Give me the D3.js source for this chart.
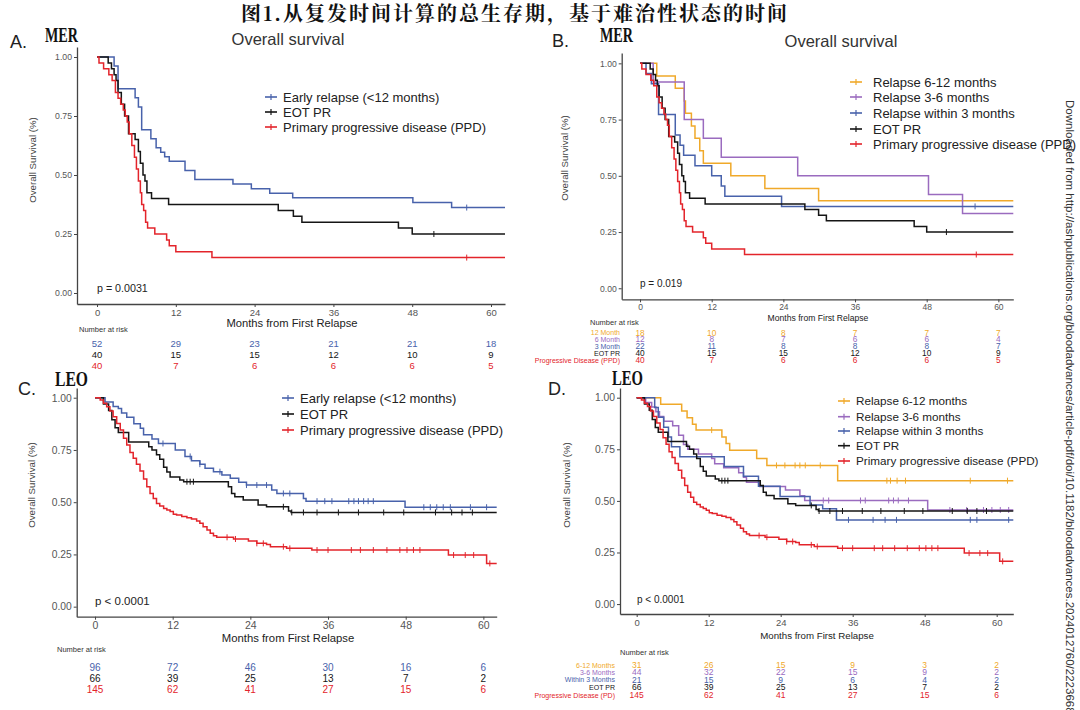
<!DOCTYPE html>
<html>
<head>
<meta charset="utf-8">
<script src="https://cdn.jsdelivr.net/npm/d3@7"></script>
<style>
  body { margin: 0; background: #fff; }
  svg { display: block; font-family: "Liberation Sans", Arial, sans-serif; }
</style>
</head>
<body>
<svg width="1080" height="710"></svg>
<script>
// ---- data ----
var monthTicks = [0, 12, 24, 36, 48, 60];
var survTicks = [0, 0.25, 0.5, 0.75, 1];

// MER cohort: [month, survival] steps, censor times
var merEarly = [[0,1],[2.6,0.962],[3.2,0.865],[5.8,0.827],[6.3,0.788],[6.8,0.692],[8.2,0.654],[9.0,0.615],[9.7,0.596],[10.3,0.577],[11.0,0.558],[13.4,0.519],[14.9,0.481],[20.7,0.462],[23.5,0.442],[26.3,0.423],[29.8,0.404],[48.1,0.383],[54.0,0.362]];
var merEarlyCens = [56.3];
var merEot = [[0,1],[1.7,0.975],[2.2,0.95],[2.6,0.925],[2.9,0.9],[3.2,0.85],[3.7,0.8],[4.2,0.75],[4.8,0.675],[5.8,0.65],[6.3,0.6],[6.6,0.55],[7.0,0.5],[7.3,0.475],[7.6,0.425],[8.3,0.4],[10.9,0.375],[27.6,0.35],[29.9,0.325],[31.2,0.3],[45.9,0.275],[48.0,0.25]];
var merEotCens = [51.3];
var merPpd = [[0,1],[0.3,0.975],[1.0,0.95],[1.8,0.925],[2.3,0.9],[2.8,0.85],[3.2,0.825],[3.6,0.8],[4.0,0.775],[4.3,0.75],[4.6,0.725],[4.9,0.675],[5.3,0.625],[5.7,0.575],[6.0,0.525],[6.3,0.475],[6.6,0.425],[6.8,0.375],[7.1,0.35],[7.4,0.3],[7.7,0.275],[8.8,0.25],[10.6,0.225],[11.0,0.2],[12.0,0.175],[17.5,0.15]];
var merPpdCens = [56.3];
var mer612 = [[0,1],[2.8,0.944],[5.9,0.889],[7.4,0.833],[7.6,0.778],[8.6,0.722],[9.2,0.667],[10.0,0.611],[10.6,0.556],[15.2,0.5],[20.9,0.444],[29.9,0.389]];
var mer36 = [[0,1],[2.2,0.917],[7.4,0.75],[10.6,0.667],[13.6,0.583],[26.4,0.5],[48.3,0.417],[54.0,0.333]];
var mer3 = [[0,1],[1.0,0.955],[1.9,0.909],[3.1,0.773],[5.9,0.682],[6.7,0.636],[7.3,0.591],[9.2,0.545],[12.0,0.5],[13.6,0.455],[14.2,0.409],[23.7,0.364]];
var mer3Cens = [56.1];

// LEO cohort
var leoEarly = [[0,1],[1.55,0.979],[2.8,0.958],[3.6,0.948],[4.1,0.927],[4.9,0.906],[6.0,0.875],[7.0,0.854],[7.5,0.823],[8.8,0.802],[9.8,0.781],[12.4,0.75],[13.9,0.719],[14.9,0.698],[16.2,0.682],[17.0,0.662],[18.3,0.646],[19.6,0.63],[20.9,0.614],[22.2,0.595],[23.4,0.582],[27.3,0.558],[28.1,0.542],[32.2,0.518],[32.6,0.505],[47.9,0.476]];
var leoEarlyCens = [10.5,14.7,16.2,19.3,23.4,25.0,26.5,29.1,30.1,34.3,35.5,36.6,39.2,40.0,40.7,41.5,42.2,43.0,50.8,51.8,52.8,53.8,54.9,58.0,60.5];
var leoEot = [[0,1],[1.3,0.97],[2.1,0.939],[2.6,0.894],[3.1,0.856],[3.6,0.833],[5.2,0.788],[8.3,0.765],[8.8,0.75],[9.5,0.727],[10.0,0.705],[10.6,0.667],[11.1,0.644],[11.6,0.621],[13.1,0.606],[13.7,0.598],[20.6,0.574],[21.1,0.542],[21.6,0.526],[22.9,0.51],[25.2,0.486],[26.5,0.478],[29.9,0.458],[30.3,0.451]];
var leoEotCens = [14.2,14.7,15.2,29.1,30.4,32.2,34.3,37.6,40.7,44.6,47.7,52.6,55.1,56.7,58.3];
var leoPpd = [[0,1],[0.8,0.989],[1.3,0.973],[1.8,0.957],[2.3,0.936],[2.8,0.909],[3.35,0.877],[3.9,0.846],[4.4,0.806],[4.9,0.774],[5.4,0.738],[5.9,0.71],[6.4,0.681],[6.95,0.649],[7.5,0.611],[8.0,0.574],[8.5,0.542],[9.0,0.518],[9.5,0.494],[10.0,0.482],[10.6,0.47],[11.1,0.463],[11.6,0.455],[12.1,0.442],[12.6,0.439],[13.4,0.431],[14.2,0.426],[14.9,0.42],[15.7,0.41],[16.2,0.399],[16.7,0.383],[17.3,0.367],[17.8,0.351],[18.3,0.34],[18.8,0.332],[21.4,0.324],[23.7,0.314],[25.0,0.303],[26.5,0.298],[27.1,0.287],[29.6,0.279],[33.5,0.271],[54.6,0.247],[60.5,0.207]];
var leoPpdCens = [20.4,21.7,25.0,26.0,29.1,30.1,34.3,36.0,39.6,41.0,43.0,45.1,47.1,48.2,49.2,50.2,55.4,57.2,58.5,61.0];
var leo612 = [[0,1],[4.0,0.968],[7.5,0.935],[8.4,0.903],[9.3,0.871],[9.9,0.843],[14.2,0.81],[14.9,0.778],[15.5,0.745],[20.0,0.705],[21.7,0.672],[33.5,0.598]];
var leo612Cens = [12.5,23.3,24.7,26.4,27.2,28.1,30.6,41.7,42.3,43.4,44.8,55.6,61.8];
var leo36 = [[0,1],[1.5,0.977],[2.5,0.955],[3.2,0.932],[3.8,0.909],[4.5,0.886],[6.0,0.864],[7.0,0.818],[7.8,0.773],[8.5,0.75],[10.3,0.727],[12.5,0.705],[13.0,0.68],[14.5,0.66],[17.0,0.636],[17.8,0.614],[18.3,0.59],[20.5,0.57],[24.8,0.553],[27.2,0.525],[28.0,0.502],[48.5,0.456]];
var leo36Cens = [31.1,32.0,37.3,38.1,42.0,42.8,43.6,45.3,52.2,55.0,57.8,59.2,60.6,62.0];
var leo3 = [[0,1],[3.0,0.952],[3.6,0.905],[4.5,0.857],[5.3,0.81],[5.8,0.762],[7.2,0.714],[14.6,0.667],[17.8,0.619],[20.3,0.571],[23.9,0.521],[28.9,0.48],[31.0,0.462],[33.3,0.408]];
var leo3Cens = [35.3,39.4,41.4,43.3,55.6,56.7,62.0];

// numbers at risk
var riskMerEarly = [52, 29, 23, 21, 21, 18];
var riskMerEot = [40, 15, 15, 12, 10, 9];
var riskMerPpd = [40, 7, 6, 6, 6, 5];
var riskMer612 = [18, 10, 8, 7, 7, 7];
var riskMer36 = [12, 8, 7, 6, 6, 4];
var riskMer3 = [22, 11, 8, 8, 8, 7];
var riskLeoEarly = [96, 72, 46, 30, 16, 6];
var riskLeoEot = [66, 39, 25, 13, 7, 2];
var riskLeoPpd = [145, 62, 41, 27, 15, 6];
var riskLeo612 = [31, 26, 15, 9, 3, 2];
var riskLeo36 = [44, 32, 22, 15, 9, 2];
var riskLeo3 = [21, 15, 9, 6, 4, 2];

var colBlue = "#4862ab", colBlack = "#151515", colRed = "#e3242b", colOrange = "#f0a92a", colPurple = "#9a6bbf";

var svg = d3.select("svg");

svg.append("text")
    .attr("x", 515).attr("y", 21)
    .attr("text-anchor", "middle")
    .attr("font-family", "'Noto Serif CJK SC', 'Noto Sans CJK SC', sans-serif")
    .attr("font-size", "20px")
    .attr("font-weight", "bold")
    .attr("letter-spacing", "2px")
    .attr("fill", "#111")
    .text("图1.从复发时间计算的总生存期，基于难治性状态的时间");

// watermark along right edge
svg.append("text")
    .attr("transform", "translate(1066,100) rotate(90)")
    .attr("font-size", "11.5px")
    .attr("fill", "#333")
    .text("Downloaded from http://ashpublications.org/bloodadvances/article-pdf/doi/10.1182/bloodadvances.2024012760/2223668/blooda");

function survAt(steps, t) {
  var s = 1;
  steps.forEach(function(p) { if (p[0] <= t) s = p[1]; });
  return s;
}

function drawPanel(p) {
  var x = d3.scaleLinear().domain([p.xmin, p.xmax]).range([p.left, p.right]);
  var y = d3.scaleLinear().domain([p.ymin, p.ymax]).range([p.bottom, p.top]);
  var g = svg.append("g");

  var xAxis = g.append("g")
      .attr("transform", "translate(0," + p.bottom + ")")
      .call(d3.axisBottom(x).tickValues(monthTicks).tickSize(3).tickSizeOuter(0).tickPadding(2));
  xAxis.selectAll("text").attr("font-size", p.tickFont).attr("fill", "#555").attr("font-family", "Liberation Sans, Arial, sans-serif");

  var yAxis = g.append("g")
      .attr("transform", "translate(" + p.left + ",0)")
      .call(d3.axisLeft(y).tickValues(survTicks).tickFormat(d3.format(".2f")).tickSize(3).tickSizeOuter(0).tickPadding(2));
  yAxis.selectAll("text").attr("font-size", p.yTickFont).attr("fill", "#555").attr("font-family", "Liberation Sans, Arial, sans-serif");
  g.selectAll(".domain").attr("stroke", "#444").attr("stroke-width", 1.3);
  g.selectAll(".tick line").attr("stroke", "#444");

  var line = d3.line()
      .x(function(d) { return x(d[0]); })
      .y(function(d) { return y(d[1]); })
      .curve(d3.curveStepAfter);

  p.curves.forEach(function(c) {
    var pts = c.steps.concat([[p.xmax, c.steps[c.steps.length - 1][1]]]);
    g.append("path").datum(pts)
        .attr("d", line)
        .attr("fill", "none")
        .attr("stroke", c.color)
        .attr("stroke-width", 1.5);
    g.append("g").selectAll("line")
        .data(c.cens || [])
      .enter().append("line")
        .attr("x1", function(t) { return x(t); })
        .attr("x2", function(t) { return x(t); })
        .attr("y1", function(t) { return y(survAt(c.steps, t)) - 3; })
        .attr("y2", function(t) { return y(survAt(c.steps, t)) + 3; })
        .attr("stroke", c.color)
        .attr("stroke-width", 1);
  });

  // legend
  p.legend.rows.forEach(function(r, i) {
    var cy = p.legend.ys[i];
    g.append("line")
        .attr("x1", p.legend.x0).attr("x2", p.legend.x0 + 12)
        .attr("y1", cy).attr("y2", cy)
        .attr("stroke", r.color).attr("stroke-width", 1.6);
    g.append("line")
        .attr("x1", p.legend.x0 + 6).attr("x2", p.legend.x0 + 6)
        .attr("y1", cy - 3).attr("y2", cy + 3)
        .attr("stroke", r.color).attr("stroke-width", 1.2);
    g.append("text")
        .attr("x", p.legend.tx).attr("y", cy)
        .attr("dy", "0.35em")
        .attr("font-size", p.legend.font)
        .attr("fill", "#222")
        .text(r.name);
  });

  g.append("text")
      .attr("x", p.pval.x).attr("y", p.pval.y)
      .attr("font-size", p.pval.font)
      .attr("fill", "#222")
      .text(p.pval.text);

  g.append("text")
      .attr("x", p.xlab.x).attr("y", p.xlab.y)
      .attr("text-anchor", "middle")
      .attr("font-size", p.xlab.font)
      .attr("fill", "#222")
      .text("Months from First Relapse");

  g.append("text")
      .attr("transform", "translate(" + p.ylab.x + "," + p.ylab.y + ") rotate(-90)")
      .attr("text-anchor", "middle")
      .attr("font-size", "9.7px")
      .attr("fill", "#444")
      .text("Overall Survival (%)");

  g.append("text")
      .attr("x", p.letter.x).attr("y", p.letter.y)
      .attr("font-size", "18px")
      .attr("fill", "#222")
      .text(p.letter.text);

  g.append("text")
      .attr("x", p.cohort.x).attr("y", p.cohort.y)
      .attr("font-family", "'Liberation Serif', 'DejaVu Serif', serif")
      .attr("font-weight", "bold")
      .attr("font-size", "20px")
      .attr("textLength", p.cohort.w)
      .attr("lengthAdjust", "spacingAndGlyphs")
      .attr("fill", "#111")
      .text(p.cohort.text);

  if (p.title) {
    g.append("text")
        .attr("x", p.title.x).attr("y", p.title.y)
        .attr("text-anchor", "middle")
        .attr("font-size", "16.5px")
        .attr("fill", "#333")
        .text("Overall survival");
  }

  // risk table
  g.append("text")
      .attr("x", p.risk.nx).attr("y", p.risk.ny)
      .attr("font-size", "7.5px")
      .attr("fill", "#333")
      .text("Number at risk");

  p.risk.rows.forEach(function(r, i) {
    var ry = p.risk.ys[i];
    g.append("g").selectAll("text")
        .data(r.values)
      .enter().append("text")
        .attr("x", function(d, j) { return x(monthTicks[j]); })
        .attr("y", ry)
        .attr("dy", "0.35em")
        .attr("text-anchor", "middle")
        .attr("font-size", p.risk.font)
        .attr("fill", r.color)
        .text(function(d) { return d; });
    if (r.label) {
      g.append("text")
          .attr("x", p.risk.lx).attr("y", ry)
          .attr("dy", "0.35em")
          .attr("text-anchor", "end")
          .attr("font-size", "7px")
          .attr("fill", r.color)
          .text(r.label);
    }
  });
}

drawPanel({
  left: 77, right: 505, xmin: -3.05, xmax: 62.13,
  top: 47, bottom: 304, ymin: -0.0466, ymax: 1.0424,
  tickFont: "9.5px", yTickFont: "8.7px",
  curves: [
    {steps: merEarly, cens: merEarlyCens, color: colBlue},
    {steps: merEot, cens: merEotCens, color: colBlack},
    {steps: merPpd, cens: merPpdCens, color: colRed}
  ],
  legend: {x0: 265, tx: 283, font: "13px", ys: [97, 112, 127], rows: [
    {name: "Early relapse (<12 months)", color: colBlue},
    {name: "EOT PR", color: colBlack},
    {name: "Primary progressive disease (PPD)", color: colRed}
  ]},
  pval: {x: 97, y: 292, font: "10.7px", text: "p = 0.0031"},
  xlab: {x: 292, y: 327, font: "11.2px"},
  ylab: {x: 36, y: 160},
  letter: {x: 10, y: 48, text: "A."},
  cohort: {x: 45, y: 42, w: 33, text: "MER"},
  title: {x: 288, y: 45},
  risk: {nx: 79, ny: 332, font: "9.5px", ys: [344, 355, 366], lx: 0, rows: [
    {values: riskMerEarly, color: colBlue},
    {values: riskMerEot, color: colBlack},
    {values: riskMerPpd, color: colRed}
  ]}
});

drawPanel({
  left: 621.7, right: 1013.3, xmin: -3.07, xmax: 62.5,
  top: 53, bottom: 299.3, ymin: -0.049, ymax: 1.046,
  tickFont: "8.5px", yTickFont: "8.6px",
  curves: [
    {steps: mer612, cens: [], color: colOrange},
    {steps: mer36, cens: [], color: colPurple},
    {steps: mer3, cens: mer3Cens, color: colBlue},
    {steps: merEot, cens: merEotCens, color: colBlack},
    {steps: merPpd, cens: merPpdCens, color: colRed}
  ],
  legend: {x0: 850, tx: 873, font: "13px", ys: [82, 97, 113, 129, 144], rows: [
    {name: "Relapse 6-12 months", color: colOrange},
    {name: "Relapse 3-6 months", color: colPurple},
    {name: "Relapse within 3 months", color: colBlue},
    {name: "EOT PR", color: colBlack},
    {name: "Primary progressive disease (PPD)", color: colRed}
  ]},
  pval: {x: 640, y: 287, font: "10px", text: "p = 0.019"},
  xlab: {x: 818, y: 321, font: "8.6px"},
  ylab: {x: 568, y: 158},
  letter: {x: 552, y: 47, text: "B."},
  cohort: {x: 600, y: 42, w: 33, text: "MER"},
  title: {x: 841, y: 47},
  risk: {nx: 590, ny: 325, font: "8.3px", ys: [332.7, 339.5, 346.3, 353.3, 360.5], lx: 620, rows: [
    {values: riskMer612, color: colOrange, label: "12 Month"},
    {values: riskMer36, color: colPurple, label: "6 Month"},
    {values: riskMer3, color: colBlue, label: "3 Month"},
    {values: riskMerEot, color: colBlack, label: "EOT PR"},
    {values: riskMerPpd, color: colRed, label: "Progressive Disease (PPD)"}
  ]}
});

drawPanel({
  left: 76.7, right: 496.7, xmin: -2.83, xmax: 62.06,
  top: 388, bottom: 616.7, ymin: -0.048, ymax: 1.0465,
  tickFont: "10.5px", yTickFont: "10.3px",
  curves: [
    {steps: leoEarly, cens: leoEarlyCens, color: colBlue},
    {steps: leoEot, cens: leoEotCens, color: colBlack},
    {steps: leoPpd, cens: leoPpdCens, color: colRed}
  ],
  legend: {x0: 282, tx: 300, font: "13px", ys: [398, 414, 430], rows: [
    {name: "Early relapse (<12 months)", color: colBlue},
    {name: "EOT PR", color: colBlack},
    {name: "Primary progressive disease (PPD)", color: colRed}
  ]},
  pval: {x: 95, y: 605, font: "11.5px", text: "p < 0.0001"},
  xlab: {x: 288, y: 642, font: "11.3px"},
  ylab: {x: 35, y: 485},
  letter: {x: 18, y: 395, text: "C."},
  cohort: {x: 55, y: 386, w: 33, text: "LEO"},
  risk: {nx: 57, ny: 652, font: "10px", ys: [667.3, 678.3, 689.3], lx: 0, rows: [
    {values: riskLeoEarly, color: colBlue},
    {values: riskLeoEot, color: colBlack},
    {values: riskLeoPpd, color: colRed}
  ]}
});

drawPanel({
  left: 620, right: 1013.3, xmin: -2.78, xmax: 62.77,
  top: 388, bottom: 614, ymin: -0.048, ymax: 1.047,
  tickFont: "9.5px", yTickFont: "10.3px",
  curves: [
    {steps: leo612, cens: leo612Cens, color: colOrange},
    {steps: leo36, cens: leo36Cens, color: colPurple},
    {steps: leo3, cens: leo3Cens, color: colBlue},
    {steps: leoEot, cens: leoEotCens, color: colBlack},
    {steps: leoPpd, cens: leoPpdCens, color: colRed}
  ],
  legend: {x0: 838, tx: 856, font: "11.7px", ys: [401, 416.7, 431, 445.7, 461], rows: [
    {name: "Relapse 6-12 months", color: colOrange},
    {name: "Relapse 3-6 months", color: colPurple},
    {name: "Relapse within 3 months", color: colBlue},
    {name: "EOT PR", color: colBlack},
    {name: "Primary progressive disease (PPD)", color: colRed}
  ]},
  pval: {x: 637, y: 603, font: "10px", text: "p < 0.0001"},
  xlab: {x: 817, y: 638.5, font: "9.7px"},
  ylab: {x: 570, y: 485},
  letter: {x: 548, y: 395, text: "D."},
  cohort: {x: 612, y: 385, w: 31, text: "LEO"},
  risk: {nx: 620, ny: 655, font: "8.5px", ys: [665.3, 672.5, 680, 687.5, 695.3], lx: 615, rows: [
    {values: riskLeo612, color: colOrange, label: "6-12 Months"},
    {values: riskLeo36, color: colPurple, label: "3-6 Months"},
    {values: riskLeo3, color: colBlue, label: "Within 3 Months"},
    {values: riskLeoEot, color: colBlack, label: "EOT PR"},
    {values: riskLeoPpd, color: colRed, label: "Progressive Disease (PD)"}
  ]}
});
</script>
</body>
</html>
